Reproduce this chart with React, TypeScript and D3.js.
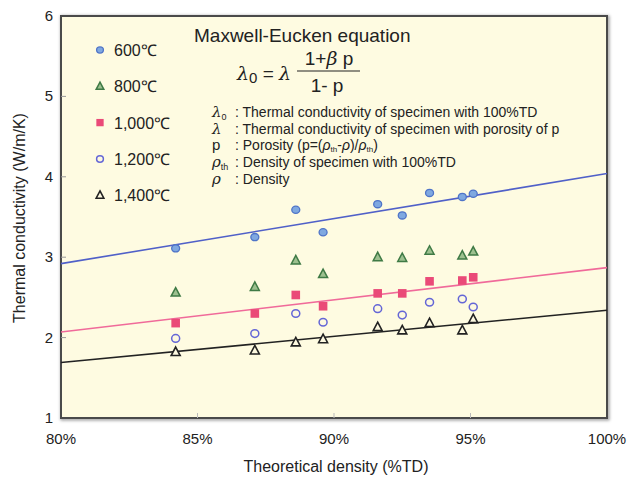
import React from 'react'
import * as d3 from 'd3'

// theoretical density (%TD), shared by all temperatures
const density = [84.2, 87.1, 88.6, 89.6, 91.6, 92.5, 93.5, 94.7, 95.1]

const k600 = [3.11, 3.25, 3.59, 3.31, 3.66, 3.52, 3.80, 3.75, 3.79]
const k800 = [2.56, 2.63, 2.96, 2.79, 3.00, 2.99, 3.08, 3.02, 3.07]
const k1000 = [2.18, 2.30, 2.53, 2.39, 2.55, 2.55, 2.70, 2.71, 2.75]
const k1200 = [1.99, 2.05, 2.30, 2.19, 2.36, 2.28, 2.44, 2.48, 2.38]
const k1400 = [1.82, 1.84, 1.94, 1.98, 2.13, 2.09, 2.18, 2.09, 2.23]

// fitted lines, values at 80% and 100%
const fitX = [80, 100]
const fit600 = [2.92, 4.04]
const fit1000 = [2.07, 2.87]
const fit1400 = [1.69, 2.34]

const xTicks = [80, 85, 90, 95, 100]
const yTicks = [1, 2, 3, 4, 5, 6]
const legendLabels = ['600℃', '800℃', '1,000℃', '1,200℃', '1,400℃']

const defs = [
  ['λ', '0', ': Thermal conductivity of specimen with 100%TD'],
  ['λ', '', ': Thermal conductivity of specimen with porosity of p'],
  ['p', '', ''],
  ['ρ', 'th', ': Density of specimen with 100%TD'],
  ['ρ', '', ': Density'],
]

const L = 61, R = 607, T = 16, B = 418
const font = 'Liberation Sans, Arial, sans-serif'

type Kind = 'c600' | 't800' | 's1000' | 'c1200' | 't1400'

const Marker = ({ kind, x, y, s = 1 }: { kind: Kind; x: number; y: number; s?: number }) => {
  const tri = `M${x},${y - 5 * s} L${x + 4.5 * s},${y + 3.5 * s} L${x - 4.5 * s},${y + 3.5 * s} Z`
  if (kind === 'c600')
    return <ellipse cx={x} cy={y} rx={4 * s} ry={3.6 * s} fill="#7fa8e0" stroke="#4f74c8" strokeWidth={1.3} />
  if (kind === 't800')
    return <path d={tri} fill="#9dc08f" stroke="#3f7a45" strokeWidth={1.5} />
  if (kind === 's1000')
    return <rect x={x - 4.3 * s} y={y - 4.3 * s} width={8.6 * s} height={8.6 * s} fill="#ea4a78" />
  if (kind === 'c1200')
    return <ellipse cx={x} cy={y} rx={4 * s} ry={3.8 * s} fill="#fdf9e0" stroke="#6466d6" strokeWidth={1.5} />
  return <path d={tri} fill="#fdf9e0" stroke="#222" strokeWidth={1.6} />
}

export default function App() {
  const x = d3.scaleLinear().domain([80, 100]).range([L, R])
  const y = d3.scaleLinear().domain([1, 6]).range([B, T])
  const line = d3.line<number>().x((_, i) => x(fitX[i])).y((d) => y(d))

  const series: [Kind, number[]][] = [
    ['c600', k600],
    ['t800', k800],
    ['s1000', k1000],
    ['c1200', k1200],
    ['t1400', k1400],
  ]
  const kinds: Kind[] = ['c600', 't800', 's1000', 'c1200', 't1400']

  return (
    <svg width={631} height={480} style={{ position: 'absolute', left: 0, top: 0 }} fontFamily={font}>
      <rect width={631} height={480} fill="#fff" />
      <defs>
        <filter id="sh" x="-5%" y="-5%" width="110%" height="110%">
          <feGaussianBlur stdDeviation="1.5" />
        </filter>
      </defs>
      <rect x={L + 1} y={T + 1} width={R - L} height={B - T} fill="none" stroke="#999" strokeWidth={3} filter="url(#sh)" />
      <rect x={L} y={T} width={R - L} height={B - T} fill="#fefbe1" stroke="#4a4a4a" strokeWidth={2} />

      {xTicks.slice(1, -1).map((t) => (
        <line key={t} x1={x(t)} x2={x(t)} y1={B} y2={B - 5} stroke="#bbb" strokeWidth={1} />
      ))}
      {yTicks.slice(1, -1).map((t) => (
        <line key={t} x1={L} x2={L + 5} y1={y(t)} y2={y(t)} stroke="#999" strokeWidth={1} />
      ))}

      {xTicks.map((t) => (
        <text key={t} x={x(t)} y={444} fontSize={15} textAnchor="middle" fill="#222">{t}%</text>
      ))}
      {yTicks.map((t) => (
        <text key={t} x={53} y={y(t) + 5} fontSize={15} textAnchor="end" fill="#222">{t}</text>
      ))}
      <text x={336} y={472} fontSize={16} textAnchor="middle" fill="#222">Theoretical density (%TD)</text>
      <text transform={`translate(25,218) rotate(-90)`} fontSize={16} textAnchor="middle" fill="#222">
        Thermal conductivity (W/m/K)
      </text>

      <g fill="none" strokeWidth={1.6}>
        <path d={line(fit600) || ''} stroke="#5060c8" />
        <path d={line(fit1000) || ''} stroke="#f06a9a" />
        <path d={line(fit1400) || ''} stroke="#222" />
      </g>

      {series.map(([kind, vals]) =>
        vals.map((v, i) => <Marker key={kind + i} kind={kind} x={x(density[i])} y={y(v)} />)
      )}

      {legendLabels.map((lab, i) => (
        <g key={lab}>
          <Marker kind={kinds[i]} x={100} y={50 + i * 36.3} s={0.85} />
          <text x={114} y={56 + i * 36.3} fontSize={16} fill="#222">{lab}</text>
        </g>
      ))}

      <text x={194} y={42} fontSize={19} fill="#222">Maxwell-Eucken equation</text>
      <text x={237} y={80} fontSize={19} fill="#222">
        <tspan fontStyle="italic" fontFamily="DejaVu Serif">λ</tspan>
        <tspan fontSize={15} dy={3}>0</tspan>
        <tspan dy={-3}> = </tspan>
        <tspan fontStyle="italic" fontFamily="DejaVu Serif">λ</tspan>
      </text>
      <text x={329} y={65} fontSize={19} textAnchor="middle" fill="#222">
        1+<tspan fontStyle="italic" fontFamily="DejaVu Serif">β</tspan> p
      </text>
      <line x1={297} x2={360} y1={71} y2={71} stroke="#222" strokeWidth={1.2} />
      <text x={327} y={92} fontSize={19} textAnchor="middle" fill="#222">1- p</text>

      {defs.map(([sym, sub, txt], i) => (
        <g key={i} fontSize={14} fill="#222">
          <text x={212} y={117 + i * 16.7}>
            <tspan fontStyle={sym === 'p' ? 'normal' : 'italic'} fontFamily={sym === 'p' ? font : 'DejaVu Serif'} fontSize={15}>{sym}</tspan>
            {sub && <tspan fontSize={9} dy={3}>{sub}</tspan>}
          </text>
          {i === 2 ? (
            <text x={235} y={117 + i * 16.7}>
              : Porosity (p=(<tspan fontStyle="italic">ρ</tspan><tspan fontSize={8} dy={2}>th</tspan>
              <tspan dy={-2}>-</tspan><tspan fontStyle="italic">ρ</tspan>)/<tspan fontStyle="italic">ρ</tspan>
              <tspan fontSize={8} dy={2}>th</tspan><tspan dy={-2}>)</tspan>
            </text>
          ) : (
            <text x={235} y={117 + i * 16.7}>{txt}</text>
          )}
        </g>
      ))}
    </svg>
  )
}
